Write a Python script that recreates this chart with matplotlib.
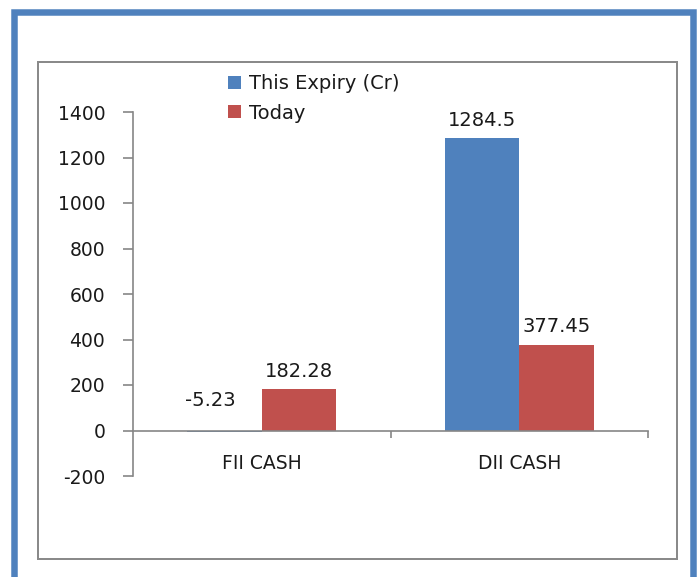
import matplotlib
matplotlib.use("Agg")
import matplotlib.pyplot as plt
from matplotlib.patches import Rectangle
import numpy as np

categories = ["FII CASH", "DII CASH"]
series_names = ["This Expiry (Cr)", "Today"]
this_expiry = [-5.23, 1284.5]
today = [182.28, 377.45]
labels_expiry = ["-5.23", "1284.5"]
labels_today = ["182.28", "377.45"]
yticks = [-200, 0, 200, 400, 600, 800, 1000, 1200, 1400]

BLUE = "#4F81BD"
RED = "#C0504D"
GRAY = "#868686"
TXT = "#1a1a1a"

W, H = 699, 577
fig = plt.figure(figsize=(W / 100, H / 100), dpi=100)
fig.patch.set_facecolor("white")


def fx(px):
    return px / W


def fy(py):
    return 1 - py / H


# blue outer frame
fig.add_artist(Rectangle((fx(14), fy(600)), fx(692.5) - fx(14), fy(11.5) - fy(600),
                         transform=fig.transFigure, fill=False, edgecolor=BLUE,
                         linewidth=6.5 * 0.72, clip_on=True))
# gray chart area box
fig.add_artist(Rectangle((fx(38), fy(559)), fx(677) - fx(38), fy(62) - fy(559),
                         transform=fig.transFigure, fill=False, edgecolor="#8a8a8a",
                         linewidth=2 * 0.72))

ax = fig.add_axes([fx(133), fy(476), fx(648) - fx(133), fy(112) - fy(476)])
ax.set_facecolor("none")

x = np.arange(len(categories))
w = 0.29
b1 = ax.bar(x - w / 2, this_expiry, w, color=BLUE, label=series_names[0], zorder=2)
b2 = ax.bar(x + w / 2, today, w, color=RED, label=series_names[1], zorder=2)

ax.set_xlim(-0.5, 1.5)
ax.set_ylim(-200, 1400)
ax.set_yticks(yticks)
ax.set_yticklabels([str(t) for t in yticks])

for s in ["top", "right"]:
    ax.spines[s].set_visible(False)
ax.spines["left"].set_color(GRAY)
ax.spines["bottom"].set_color(GRAY)
ax.spines["bottom"].set_position(("data", 0))
ax.spines["left"].set_linewidth(1.2)
ax.spines["bottom"].set_linewidth(1.2)

ax.tick_params(axis="y", direction="out", length=7, color=GRAY, width=1.2,
               labelsize=13.5, pad=13, labelcolor=TXT)
ax.set_xticks(x)
ax.set_xticklabels(categories)
ax.tick_params(axis="x", which="major", length=0, labelsize=13.5, pad=17,
               labelcolor=TXT)
ax.set_xticks([0.5, 1.5], minor=True)
ax.tick_params(axis="x", which="minor", direction="out", length=5, color=GRAY, width=1.2)


def annotate(bars, texts):
    for rect, t in zip(bars, texts):
        v = rect.get_height()
        top = max(v, 0)
        if v >= 0:
            off = (0, 18)
        else:
            off = (-14, 30)
        ax.annotate(t, (rect.get_x() + rect.get_width() / 2, top),
                    xytext=(off[0] * 0.72, off[1] * 0.72), textcoords="offset points",
                    ha="center", va="center", fontsize=14, color=TXT)


annotate(b1, labels_expiry)
annotate(b2, labels_today)

fig.legend(handles=[b1, b2], labels=series_names, loc="upper left",
           bbox_to_anchor=(fx(228), fy(74)), frameon=False, fontsize=14,
           handlelength=0.65, handleheight=0.65, handletextpad=0.45,
           labelspacing=0.55, borderpad=0, borderaxespad=0, labelcolor=TXT)

fig.savefig("out.png", dpi=100)
